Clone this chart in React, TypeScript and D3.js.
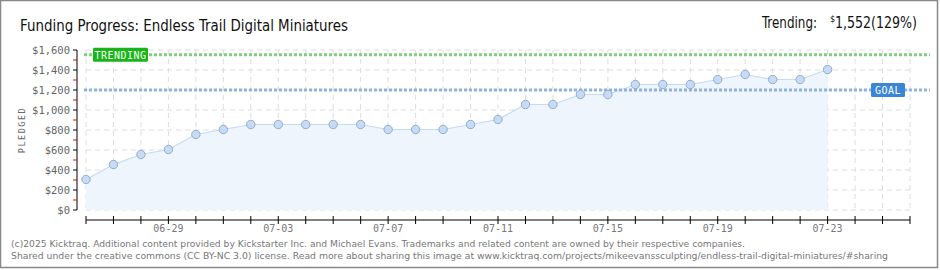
import React from "react";
import * as d3 from "d3";

const dates: string[] = [
  "2025-06-26","2025-06-27","2025-06-28","2025-06-29","2025-06-30","2025-07-01","2025-07-02",
  "2025-07-03","2025-07-04","2025-07-05","2025-07-06","2025-07-07","2025-07-08","2025-07-09",
  "2025-07-10","2025-07-11","2025-07-12","2025-07-13","2025-07-14","2025-07-15","2025-07-16",
  "2025-07-17","2025-07-18","2025-07-19","2025-07-20","2025-07-21","2025-07-22","2025-07-23",
];
const pledged: number[] = [
  305, 455, 555, 605, 755, 805, 855, 855, 855, 855, 855, 805, 805, 805,
  855, 905, 1055, 1055, 1155, 1155, 1255, 1255, 1255, 1305, 1355, 1305, 1305, 1405,
];
const axisStart = "2025-06-26";
const axisEnd = "2025-07-26";
const yTicks: number[] = [0, 200, 400, 600, 800, 1000, 1200, 1400, 1600];
const goal = 1200;
const trending = 1552;
const title = "Funding Progress: Endless Trail Digital Miniatures";
const footer1 = "(c)2025 Kicktraq. Additional content provided by Kickstarter Inc. and Michael Evans. Trademarks and related content are owned by their respective companies.";
const footer2 = "Shared under the creative commons (CC BY-NC 3.0) license. Read more about sharing this image at www.kicktraq.com/projects/mikeevanssculpting/endless-trail-digital-miniatures/#sharing";

const W = 940, H = 270;
const X0 = 86, X1 = 910, Y0 = 210, Y1 = 50;

export default function App() {
  const parse = d3.utcParse("%Y-%m-%d");
  const x = d3.scaleUtc().domain([parse(axisStart)!, parse(axisEnd)!]).range([X0, X1]);
  const y = d3.scaleLinear().domain([0, 1600]).range([Y0, Y1]);
  const days = d3.utcDay.range(parse(axisStart)!, d3.utcDay.offset(parse(axisEnd)!, 1));
  const pts = dates.map((d, i) => ({ d: parse(d)!, v: pledged[i] }));
  const line = d3.line<any>().x(p => x(p.d)).y(p => y(p.v));
  const area = d3.area<any>().x(p => x(p.d)).y0(y(0)).y1(p => y(p.v));
  const fmt = d3.utcFormat("%m-%d");
  const minor = d3.range(100, 1600, 200);
  const mono = "'DejaVu Sans Mono', monospace";
  const head = "'DejaVu Sans Condensed','DejaVu Sans',sans-serif";
  const pct = Math.round((trending / goal) * 100);

  return (
    <svg width={W} height={H} style={{ position: "absolute", left: 0, top: 0, background: "#fff" }}>
      <rect x={0.5} y={0.5} width={W - 3} height={H - 3} fill="#fff" stroke="#888" strokeWidth={1.5} />
      <text x={20} y={31} fontFamily={head} fontWeight={300} fontSize={16.5} fill="#111"
        textLength={328} lengthAdjust="spacingAndGlyphs">{title}</text>
      <text x={762} y={28} fontFamily={head} fontWeight={300} fontSize={16.5} fill="#111"
        textLength={55} lengthAdjust="spacingAndGlyphs">Trending:</text>
      <text x={830} y={22} fontFamily={head} fontSize={9} fill="#111">$</text>
      <text x={835} y={28} fontFamily={head} fontWeight={300} fontSize={16.5} fill="#111"
        textLength={82} lengthAdjust="spacingAndGlyphs">{d3.format(",")(trending) + "(" + pct + "%)"}</text>

      {/* grid */}
      {yTicks.map(t => (
        <line key={"h" + t} x1={X0} x2={X1} y1={y(t)} y2={y(t)} stroke="#ddd" strokeDasharray="5,4" />
      ))}
      {days.map((d, i) => (
        <line key={"v" + i} x1={x(d)} x2={x(d)} y1={Y1} y2={Y0} stroke="#ddd" strokeDasharray="5,4" />
      ))}

      {/* area + line */}
      <path d={area(pts)!} fill="#eef5fd" />
      <path d={line(pts)!} fill="none" stroke="#c3dbf4" strokeWidth={1.2} />

      {/* trending and goal lines */}
      <line x1={X0 - 2} x2={X1 + 20} y1={y(trending)} y2={y(trending)} stroke="#7dd17d" strokeWidth={3} strokeDasharray="3,2" />
      <line x1={X0 - 2} x2={X1 + 20} y1={y(goal)} y2={y(goal)} stroke="#8fb3dc" strokeWidth={3} strokeDasharray="3,2" />

      {pts.map((p, i) => (
        <circle key={"c" + i} cx={x(p.d)} cy={y(p.v)} r={4.2} fill="#c6dcf6" stroke="#93abc9" strokeWidth={1} />
      ))}

      {/* labels */}
      <rect x={93} y={y(trending) - 7} width={55} height={14} rx={1.5} fill="#18b418" />
      <text x={120.5} y={y(trending) + 4} textAnchor="middle" fontFamily={mono} fontSize={10} fill="#fff" letterSpacing={0.5}>TRENDING</text>
      <rect x={871} y={y(goal) - 7} width={34} height={14} rx={1.5} fill="#3a86d4" />
      <text x={888} y={y(goal) + 4} textAnchor="middle" fontFamily={mono} fontSize={10} fill="#fff" letterSpacing={0.5}>GOAL</text>

      {/* y axis */}
      <line x1={77} x2={77} y1={Y1} y2={Y0} stroke="#000" />
      {minor.map(t => (
        <line key={"m" + t} x1={73} x2={77} y1={y(t)} y2={y(t)} stroke="#e00" />
      ))}
      {yTicks.map(t => (
        <g key={"yt" + t}>
          <line x1={73} x2={77} y1={y(t)} y2={y(t)} stroke="#000" />
          <text x={70} y={y(t) + 4} textAnchor="end" fontFamily={mono} fontSize={10.5} fill="#666">{"$" + d3.format(",")(t)}</text>
        </g>
      ))}
      <text transform="translate(25,130) rotate(-90)" textAnchor="middle" fontFamily={mono} fontSize={8.5} fill="#666" letterSpacing={1.5}>PLEDGED</text>

      {/* x axis */}
      <line x1={X0} x2={X1} y1={220} y2={220} stroke="#000" />
      {days.map((d, i) => (
        <line key={"xt" + i} x1={x(d)} x2={x(d)} y1={216} y2={224} stroke="#000" />
      ))}
      {days.filter((_, i) => i % 4 === 3).map((d, i) => (
        <text key={"xl" + i} x={x(d)} y={232} textAnchor="middle" fontFamily={mono} fontSize={10} fill="#777">{fmt(d)}</text>
      ))}

      {/* footer */}
      <text x={11} y={247} fontFamily="'DejaVu Sans',sans-serif" fontSize={9.5} fill="#777" textLength={734} lengthAdjust="spacingAndGlyphs">{footer1}</text>
      <text x={11} y={259} fontFamily="'DejaVu Sans',sans-serif" fontSize={9.5} fill="#777" textLength={877} lengthAdjust="spacingAndGlyphs">{footer2}</text>
    </svg>
  );
}
